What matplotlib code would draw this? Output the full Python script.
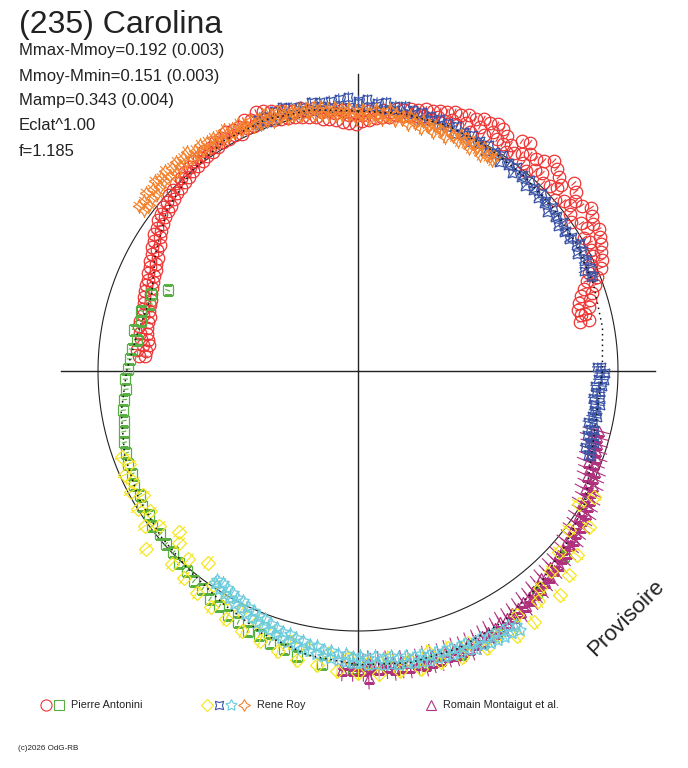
"""
Polar lightcurve of (235) Carolina
phase clockwise from top, radius = relative brightness (circle = 100)
"""
import numpy as np
import matplotlib.pyplot as plt

plt.rcParams['font.family'] = ['Liberation Sans', 'DejaVu Sans']

# mean fitted curve, every 10 deg
fit_phase = [0, 10, 20, 30, 40, 50, 60, 70, 80, 90, 100, 110, 120, 130, 140, 150, 160, 170, 180,
             190, 200, 210, 220, 230, 240, 250, 260, 270, 280, 290, 300, 310, 320, 330, 340, 350, 360]
fit_r = [100, 100.5, 100.5, 99.5, 98.5, 97.8, 97.2, 96.5, 95.5, 94, 93.3, 95.5, 101, 104.2, 108, 111.5,
         113.5, 114, 113, 111, 107.5, 103.5, 100.5, 99, 97.5, 95.5, 92.5, 89, 86, 84.5, 90, 96, 100,
         102.5, 103, 102, 100]

# Pierre Antonini - circles (two nights at the same phases)
red_phase = [274, 275.5, 277, 278.5, 280, 281.5, 283, 284.5, 286, 287.5, 289, 290.5, 292, 293.5, 295,
             296.5, 298, 299.5, 301, 302.5, 304, 305.5, 307, 308.5, 310, 311.5, 313, 314.5, 316, 317.5,
             319, 320.5, 322, 323.5, 325, 326.5, 328, 329.5, 331, 332.5, 334, 335.5, 337, 338.5, 340,
             341.5, 343, 344.5, 346, 347.5, 349, 350.5, 352, 353.5, 355, 356.5, 358, 359.5, 1, 2.5, 4,
             5.5, 7, 8.5, 10, 11.5, 13, 14.5, 16, 17.5, 19, 20.5, 22, 23.5, 25, 26.5, 28, 29.5, 31, 32.5,
             34, 35.5, 37, 38.5, 40, 41.5, 43, 44.5, 46, 47.5, 49, 50.5, 52, 53.5, 55, 56.5, 58, 59.5,
             61, 62.5, 64, 65.5, 67, 68.5, 70, 71.5, 73, 74.5, 76, 77.5]
red_r = [82, 85.5, 81, 84.5, 82.5, 86, 83, 85.5, 83.5, 86.5, 84, 87.5, 85.5, 88, 86.5,
         89.5, 88, 91, 90, 93, 92, 95, 94, 97, 95.5, 98, 97, 99.5, 98, 100.5,
         99, 101.5, 100, 102.5, 101, 103, 101.5, 104, 102, 104.5, 101.5, 106, 102.5, 107, 103,
         105.5, 101.5, 104, 100.5, 103.5, 99.5, 102.5, 98, 101.5, 97, 100.5, 95.5, 99.5, 96, 100, 97.5,
         101, 98.5, 102, 99.5, 103, 100.5, 104, 101, 105, 101.5, 106.5, 102, 107.5, 101.5, 108.5, 103, 109, 104, 107,
         101.5, 108.5, 104.5, 106.5, 100.5, 108, 104, 109, 102.5, 106, 100.5, 108.5, 103.5, 107, 100, 108, 104, 107.5,
         102, 105.5, 100.5, 103, 96.5, 99, 92.5, 95, 89, 92, 88.5, 91]
red_r2 = [84.5, 82, 83.5, 81.5, 85, 83, 86, 82.5, 86, 84, 87, 85, 88, 86, 89,
          87, 90.5, 88.5, 92.5, 90.5, 94.5, 93, 96.5, 95, 98, 96, 99.5, 97.5, 100.5, 98.5,
          101.5, 99.5, 102.5, 100.5, 103.5, 101, 104, 102, 105, 102.5, 104.5, 102.5, 105, 103.5, 106.5,
          102, 104.5, 101, 103, 100, 102, 99, 100.5, 97.5, 99.5, 96, 98.5, 95, 98.5, 96.5, 99.5,
          98, 100.5, 99.5, 102, 100, 103, 101.5, 104, 102.5, 105.5, 103, 106, 104, 107, 105, 108, 105.5, 108.5, 103.5,
          105, 103, 110, 102, 106.5, 103, 110.5, 101.5, 107.5, 104, 110, 102.5, 106, 101.5, 109.5, 103, 106.5, 101,
          106.5, 101, 104, 98.5, 101.5, 94.5, 97, 90.5, 93.5, 88, 90, 87.5]

# Pierre Antonini - squares
green_phase = [132, 141, 152, 160, 167, 174, 181, 187, 192, 195, 198, 200.5, 203, 205.5, 208, 210.5,
               213, 215.5, 218, 220.5, 223, 225.5, 228, 230.5, 233, 235.5, 238, 240.5, 243, 245.5,
               248, 250.5, 253, 255.5, 258, 260.5, 263, 265.5, 268, 270.5, 273, 275.5, 278, 280.5,
               283, 285.5, 288, 290.5, 293]
green_r = [106.5, 109.5, 114, 116, 115.5, 114.5, 114.5, 113.5, 112, 110.5, 110, 108.5, 108.5, 107, 106.5, 105,
           104.5, 103, 102.5, 101, 101, 99.5, 99.5, 98.5, 99, 97.5, 98, 96.5, 96.5, 95.5,
           95.5, 94.5, 94, 93, 92, 91.5, 90.5, 89.5, 89.5, 88.5, 88, 87.5, 86, 87.5,
           85.5, 86.5, 84, 85, 79.5]

# Rene Roy - diamonds
yellow_phase = [118, 121, 124, 127, 130, 132, 134, 136, 138, 140, 142, 145, 147, 149, 152, 155, 158,
                160, 162, 164, 166, 168, 170, 172, 174, 176, 178, 180, 182, 184, 186, 188, 190, 192,
                194, 196, 198, 200, 202, 204, 206, 208, 210, 212, 214, 216, 218, 220, 222, 224, 226,
                228, 230, 232, 234, 236, 238, 240, 242, 244, 246, 248, 250]
yellow_r = [103, 99, 107, 101.5, 110, 104, 113, 107, 116, 109, 112.5, 118, 112, 119, 115, 117.5, 113,
            117, 112, 116.5, 111.5, 117, 113, 116.5, 111, 117, 112.5, 116, 110.5, 115.5, 109.5, 114, 108.5, 113.5,
            107.5, 112, 106, 110.5, 104, 109.5, 102.5, 108, 101, 107, 99.5, 105.5, 93.5, 104, 97.5, 103, 95.5,
            92.5, 106.5, 97, 101.5, 96.5, 100, 95.5, 99, 96.5, 98, 95, 96.5]

# Rene Roy - 4 point stars (blue)
blue_phase = [338, 340, 342, 344, 346, 348, 350, 352, 354, 356, 358, 0, 2, 4, 6, 8, 10, 12, 14, 16, 18,
              20, 22, 24, 26, 28, 30, 32, 34, 36, 38, 40, 42, 44, 46, 48, 50, 52, 54, 56, 58, 60, 62,
              64, 66, 68,
              89, 90.5, 92, 93.5, 95, 96.5, 98, 99.5, 101, 102.5, 104, 105.5, 107, 108.5, 110]
blue_r = [104, 102, 105, 103, 104.5, 102.5, 105, 103, 104.5, 102.5, 105.5, 103, 104.5, 102, 104, 101.5, 103.5,
          101, 102.5, 100.5, 102, 100, 101.5, 99.5, 101, 99, 100.5, 98.5, 100, 98, 99.5, 97.5, 99, 97, 98.5,
          96.5, 98, 96, 97.5, 95.5, 97, 97, 98, 96.5, 97.5, 96.5,
          93.5, 95, 92.5, 94, 92, 93.5, 91.5, 93, 91.5, 92.5, 92, 93.5, 93, 94.5, 94]
blue_r2 = [102, 104.5, 101.5, 105.5, 102, 104, 101.5, 104.5, 102, 105, 101.5, 104, 101.5, 103.5, 101, 103, 100.5,
           102.5, 99.5, 102, 99.5, 101.5, 98.5, 100.5, 98, 100, 97.5, 99.5, 97, 99, 96.5, 98.5, 96, 98, 96,
           97.5, 95, 97, 95, 96.5, 95.5, 98.5, 95.5, 98, 95, 97.5,
           92, 93, 94.5, 91.5, 93.5, 91, 94, 92, 93.5, 90.5, 93.5, 91.5, 95, 92, 95.5]

# Rene Roy - 5 point stars (cyan)
cyan_phase = [148, 149.5, 151, 152.5, 154, 155.5, 157, 158.5, 160, 161.5, 163, 164.5, 166, 167.5, 169,
              170.5, 172, 173.5, 175, 176.5, 178, 179.5, 181, 182.5, 184, 185.5, 187, 188.5, 190, 191.5,
              193, 194.5, 196, 197.5, 199, 200.5, 202, 203.5, 205, 206.5, 208, 209.5, 211, 212.5, 214]
cyan_r = [115, 117, 114.5, 116.5, 114, 116, 113.5, 115.5, 113, 115, 112.5, 114.5, 112.5, 114.5, 112,
          114, 111.5, 113.5, 111, 113, 110.5, 112.5, 110, 112, 109, 111, 108, 110, 107, 109,
          105.5, 107.5, 104.5, 106.5, 103, 105, 101.5, 103.5, 100, 102, 99, 100.5, 97.5, 99.5, 97]
cyan_r2 = [117.5, 114, 117, 113.5, 116.5, 113, 116, 112.5, 115.5, 112.5, 115, 112, 115, 111.5, 114.5,
           111, 114, 110.5, 113.5, 110, 113, 109.5, 112.5, 109, 111.5, 108, 110.5, 107, 109.5, 106,
           108, 104.5, 107, 103.5, 105.5, 102, 104.5, 100.5, 103, 99, 101.5, 98, 100, 96.5, 98.5]

# Rene Roy - 4 point stars (orange)
orange_phase = [307, 308.5, 310, 311.5, 313, 314.5, 316, 317.5, 319, 320.5, 322, 323.5, 325, 326.5, 328,
                329.5, 331, 332.5, 334, 335.5, 337, 338.5, 340, 341.5, 343, 344.5, 346, 347.5, 349,
                350.5, 352, 353.5, 355, 356.5, 358, 359.5, 1, 2.5, 4, 5.5, 7, 8.5, 10, 11.5, 13, 14.5, 16,
                17.5, 19, 20.5, 22, 23.5, 25, 26.5, 28, 29.5, 31, 32.5]
orange_r = [103, 105, 103.5, 105.5, 104, 106, 104, 106, 104.5, 106, 104, 105.5, 104, 105.5, 103.5,
            105, 103.5, 105, 103, 104.5, 102.5, 104, 102.5, 104, 102, 103.5, 101.5, 103, 101,
            102.5, 100, 101.5, 99, 100.5, 98.5, 100, 98, 99.5, 98, 99.5, 98.5, 100, 98.5, 100, 98, 99.5, 98,
            99, 97.5, 99, 97.5, 99, 97, 98.5, 97, 98.5, 96.5, 97.5]
orange_r2 = [105.5, 102.5, 106.5, 103, 107, 104.5, 107, 103.5, 106.5, 104, 107, 103.5, 106, 103, 105.5,
             103, 106, 103.5, 105.5, 102.5, 105, 102, 105, 101.5, 104.5, 101, 103.5, 100.5, 103,
             100, 102.5, 99, 101.5, 98.5, 101, 97.5, 100.5, 97, 100.5, 97.5, 101, 97.5, 99.5, 97, 99, 96.5, 98.5,
             96.5, 98.5, 96, 98, 96.5, 98.5, 96, 97.5, 95.5, 97.5, 96]

# Romain Montaigut et al. - triangles
mag_phase = [104, 105.5, 107, 108.5, 110, 111.5, 113, 114.5, 116, 117.5, 119, 120.5, 122, 123.5, 125,
             126.5, 128, 129.5, 131, 132.5, 134, 135.5, 137, 138.5, 140, 141.5, 143, 144.5, 146, 147.5,
             149, 150.5, 152, 153.5, 155, 156.5, 158, 159.5, 161, 162.5, 164, 165.5, 167, 168.5, 170,
             171.5, 173, 174.5, 176, 177.5, 178, 179, 181, 183]
mag_r = [93.5, 95.5, 94, 96.5, 95, 97.5, 96.5, 99.5, 98.5, 101, 100, 102.5, 101.5, 103.5, 102.5,
         104.5, 103.5, 105.5, 104.5, 106.5, 105.5, 107.5, 106.5, 108.5, 107.5, 109.5, 109, 111, 110, 112,
         111, 113, 112, 114, 112.5, 114.5, 113, 115, 113, 115, 113.5, 115.5, 113, 115, 113.5,
         115, 113, 114.5, 112.5, 114.5, 118, 113, 115, 113]
mag_r2 = [95.5, 93, 96, 94.5, 97.5, 95, 99, 97, 100.5, 98.5, 102, 100, 103.5, 101.5, 104.5,
          102.5, 105.5, 103.5, 106.5, 104.5, 107.5, 105.5, 108.5, 106.5, 109.5, 108, 110.5, 109, 112, 110.5,
          113, 111, 114, 112, 115, 113, 115.5, 113.5, 115.5, 113, 115.5, 113, 116, 113.5, 115.5,
          113, 115.5, 112.5, 115, 113, 112, 115, 113, 115]

# (phase, radii lists, marker, colour, size, error) - drawn in this order
series = [
    (red_phase, [red_r, red_r2], 'o', '#ee3535', 9, 1.2),
    (green_phase, [green_r], 's', '#58b043', 7.5, 1.0),
    (mag_phase, [mag_r, mag_r2], '^', '#b0327f', 6.5, 4.5),
    (yellow_phase, [yellow_r], 'D', '#f5e61e', 7.5, 3.0),
    (cyan_phase, [cyan_r, cyan_r2], (5, 1, 0), '#6ccbdc', 9, 2.0),
    (blue_phase, [blue_r, blue_r2], (4, 1, 45), '#3c55a6', 9, 2.0),
    (orange_phase, [orange_r, orange_r2], (4, 1, 0), '#f4832f', 9, 2.5),
]

W, H = 688, 768
fig = plt.figure(figsize=(W / 100, H / 100), dpi=100)

cx, cy, half = 358, 371, 338
ax = fig.add_axes([(cx - half) / W, (H - cy - half) / H, 2 * half / W, 2 * half / H],
                  projection='polar')
ax.set_theta_zero_location('N')
ax.set_theta_direction(-1)
ax.set_ylim(0, 130)
ax.axis('off')

# cross and reference circle
for a in [0, 90, 180, 270]:
    ax.plot([np.radians(a)] * 2, [0, 114.2], color='#222222', lw=1.0, zorder=1)
t = np.linspace(0, 2 * np.pi, 400)
ax.plot(t, np.full_like(t, 100), color='#222222', lw=0.8, zorder=1)

for ph, rlist, mk, col, ms, err in series:
    th = np.radians(ph)
    for r in rlist:
        ax.errorbar(th, r, yerr=err, fmt='none', ecolor=col, elinewidth=0.8, capsize=0, zorder=2)
        ax.plot(th, r, ls='none', marker=mk, mfc='none', mec=col, ms=ms, mew=0.9, zorder=2)

ax.plot(np.radians(fit_phase), fit_r, color='#111111', ls=(0, (1, 2.5)), lw=1.1, zorder=3)

# text
txt = '#222222'
fig.text(19 / W, 1 - 33 / H, '(235) Carolina', fontsize=23, color=txt, va='baseline')
stats = ['Mmax-Mmoy=0.192 (0.003)', 'Mmoy-Mmin=0.151 (0.003)', 'Mamp=0.343 (0.004)',
         'Eclat^1.00', 'f=1.185']
for i, s in enumerate(stats):
    fig.text(19 / W, 1 - (55.5 + 25 * i) / H, s, fontsize=12, color=txt, va='baseline')

fig.text(626 / W, 1 - 618 / H, 'Provisoire', fontsize=16, color=txt, rotation=45,
         ha='center', va='center')

# legend row
lg = fig.add_axes([0, 0, 1, 1])
lg.set_xlim(0, W)
lg.set_ylim(H, 0)
lg.axis('off')
legend_items = [
    (46, 'o', '#ee3535', 8), (59, 's', '#58b043', 6.5),
    (207, 'D', '#f5e61e', 6), (219, (4, 1, 45), '#3c55a6', 8.5), (231, (5, 1, 0), '#6ccbdc', 8.5),
    (244, (4, 1, 0), '#f4832f', 8.5), (431, '^', '#b0327f', 6.5),
]
for x, mk, col, ms in legend_items:
    lg.plot(x, 705, marker=mk, mfc='none', mec=col, ms=ms, mew=0.8)
for x, s in [(71, 'Pierre Antonini'), (257, 'Rene Roy'), (443, 'Romain Montaigut et al.')]:
    lg.text(x, 705, s, fontsize=7.8, color=txt, va='center')
lg.text(18, 748, '(c)2026 OdG-RB', fontsize=5.8, color=txt, va='center')

fig.savefig('out.png', dpi=100)
